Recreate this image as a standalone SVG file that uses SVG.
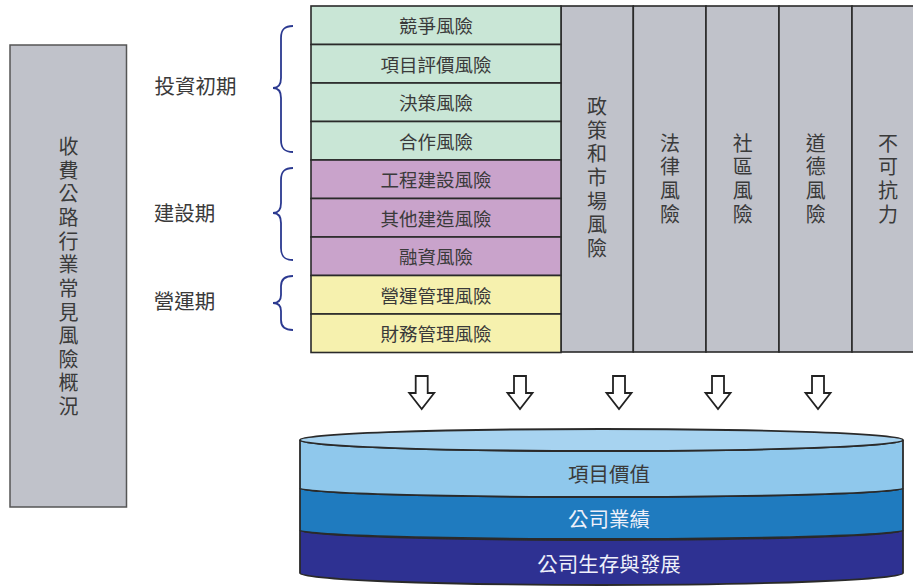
<svg xmlns="http://www.w3.org/2000/svg" width="913" height="588" viewBox="0 0 913 588">
<style>
text{font-family:"Noto Sans CJK TC","Noto Sans CJK SC",sans-serif;fill:#3a3a3a;text-anchor:middle;dominant-baseline:central}
.cell{stroke:#2a2a2a;stroke-width:1.6}
.g{fill:#c9e6d6}.p{fill:#c9a3cb}.y{fill:#f6f1ae}.gr{fill:#c0c2ca}
.rt{font-size:18.5px}
.vt{font-size:20px}
.lb{font-size:20.5px}
.brace{fill:none;stroke:#2b3990;stroke-width:1.8}
.arr{fill:#fff;stroke:#222;stroke-width:1.8;stroke-linejoin:miter}
.cyl{stroke:#2a2a2a;stroke-width:1.8}
.ct{font-size:20.5px}
</style>
<defs>
<path id="arrow" d="M-6,0 H6 V17 H12.5 L0,33 L-12.5,17 H-6 Z"/>
</defs>

<g id="overview">
<rect x="10" y="45" width="116.5" height="462" fill="#c0c2ca" stroke="#555" stroke-width="1.5"/>
<text class="vt" x="68.5"><tspan x="68.5" y="145">收</tspan><tspan x="68.5" y="168.6">費</tspan><tspan x="68.5" y="192.3">公</tspan><tspan x="68.5" y="215.9">路</tspan><tspan x="68.5" y="239.5">行</tspan><tspan x="68.5" y="263.2">業</tspan><tspan x="68.5" y="286.8">常</tspan><tspan x="68.5" y="310.5">見</tspan><tspan x="68.5" y="334.1">風</tspan><tspan x="68.5" y="357.7">險</tspan><tspan x="68.5" y="381.4">概</tspan><tspan x="68.5" y="405">況</tspan></text>
</g>

<g id="phase-labels">
<text class="lb" x="195.5" y="85">投資初期</text>
<text class="lb" x="184.5" y="212">建設期</text>
<text class="lb" x="184.5" y="300">營運期</text>
</g>

<g id="braces">
<path class="brace" d="M293,26 C284,26 281,30 281,38 L281,78 C281,85 278,88 273,88 C278,88 281,91 281,98 L281,140 C281,148 284,152 293,152"/>
<path class="brace" d="M293,168 C284,168 281,172 281,180 L281,203 C281,210 278,213 273,213 C278,213 281,216 281,223 L281,248 C281,256 284,260 293,260"/>
<path class="brace" d="M293,276 C285,276 281,279 281,286 L281,295 C281,300 278,303 273,303 C278,303 281,306 281,311 L281,320 C281,327 285,330 293,330"/>
</g>

<g id="gray-columns">
<rect class="cell gr" x="561" y="6" width="72.3" height="346"/>
<rect class="cell gr" x="633.3" y="6" width="72.7" height="346"/>
<rect class="cell gr" x="706" y="6" width="73" height="346"/>
<rect class="cell gr" x="779" y="6" width="73" height="346"/>
<rect class="cell gr" x="852" y="6" width="80" height="346"/>
</g>
<g id="col-policy"><text class="vt"><tspan x="597" y="105">政</tspan><tspan x="597" y="128.7">策</tspan><tspan x="597" y="152.3">和</tspan><tspan x="597" y="176">市</tspan><tspan x="597" y="199.7">場</tspan><tspan x="597" y="223.3">風</tspan><tspan x="597" y="247">險</tspan></text></g>
<g id="col-law"><text class="vt"><tspan x="670" y="141.7">法</tspan><tspan x="670" y="165.4">律</tspan><tspan x="670" y="189.1">風</tspan><tspan x="670" y="212.8">險</tspan></text></g>
<g id="col-community"><text class="vt"><tspan x="742.7" y="141.7">社</tspan><tspan x="742.7" y="165.4">區</tspan><tspan x="742.7" y="189.1">風</tspan><tspan x="742.7" y="212.8">險</tspan></text></g>
<g id="col-moral"><text class="vt"><tspan x="815.7" y="141.7">道</tspan><tspan x="815.7" y="165.4">德</tspan><tspan x="815.7" y="189.1">風</tspan><tspan x="815.7" y="212.8">險</tspan></text></g>
<g id="col-force"><text class="vt"><tspan x="888" y="141.7">不</tspan><tspan x="888" y="165.4">可</tspan><tspan x="888" y="189.1">抗</tspan><tspan x="888" y="212.8">力</tspan></text></g>

<g id="row-1"><rect class="cell g" x="311" y="6" width="250" height="38.5"/><text class="rt" x="436" y="25">競爭風險</text></g>
<g id="row-2"><rect class="cell g" x="311" y="44.5" width="250" height="38.5"/><text class="rt" x="436" y="63.5">項目評價風險</text></g>
<g id="row-3"><rect class="cell g" x="311" y="83" width="250" height="38.5"/><text class="rt" x="436" y="102">決策風險</text></g>
<g id="row-4"><rect class="cell g" x="311" y="121.5" width="250" height="38.5"/><text class="rt" x="436" y="140.5">合作風險</text></g>
<g id="row-5"><rect class="cell p" x="311" y="160" width="250" height="38.5"/><text class="rt" x="436" y="179">工程建設風險</text></g>
<g id="row-6"><rect class="cell p" x="311" y="198.5" width="250" height="38.5"/><text class="rt" x="436" y="217.5">其他建造風險</text></g>
<g id="row-7"><rect class="cell p" x="311" y="237" width="250" height="38.5"/><text class="rt" x="436" y="256">融資風險</text></g>
<g id="row-8"><rect class="cell y" x="311" y="275.5" width="250" height="38.5"/><text class="rt" x="436" y="294.5">營運管理風險</text></g>
<g id="row-9"><rect class="cell y" x="311" y="314" width="250" height="38.5"/><text class="rt" x="436" y="333">財務管理風險</text></g>

<g id="connectors">
<use href="#arrow" class="arr" x="421.7" y="376"/>
<use href="#arrow" class="arr" x="520" y="376"/>
<use href="#arrow" class="arr" x="619" y="376"/>
<use href="#arrow" class="arr" x="718" y="376"/>
<use href="#arrow" class="arr" x="818" y="376"/>
</g>

<g id="cylinder">
<path class="cyl" fill="#2e3192" d="M300,530 A301.5,10 0 0 0 903,530 L903,573 A301.5,12 0 0 1 300,573 Z"/>
<path class="cyl" fill="#1f7bbf" d="M300,488 A301.5,9 0 0 0 903,488 L903,530 A301.5,9 0 0 1 300,530 Z"/>
<path class="cyl" fill="#8fc8ec" d="M300,440 A301.5,11 0 0 0 903,440 L903,488 A301.5,9 0 0 1 300,488 Z"/>
<ellipse class="cyl" fill="#a7d3f0" cx="601.5" cy="440" rx="301.5" ry="11"/>
</g>
<g id="layer-1"><text class="ct" x="609" y="473.3">項目價值</text></g>
<g id="layer-2"><text class="ct" x="609" y="518.3" style="fill:#eef0fa">公司業績</text></g>
<g id="layer-3"><text class="ct" x="609" y="563.3" style="fill:#eef0fa">公司生存與發展</text></g>
</svg>
